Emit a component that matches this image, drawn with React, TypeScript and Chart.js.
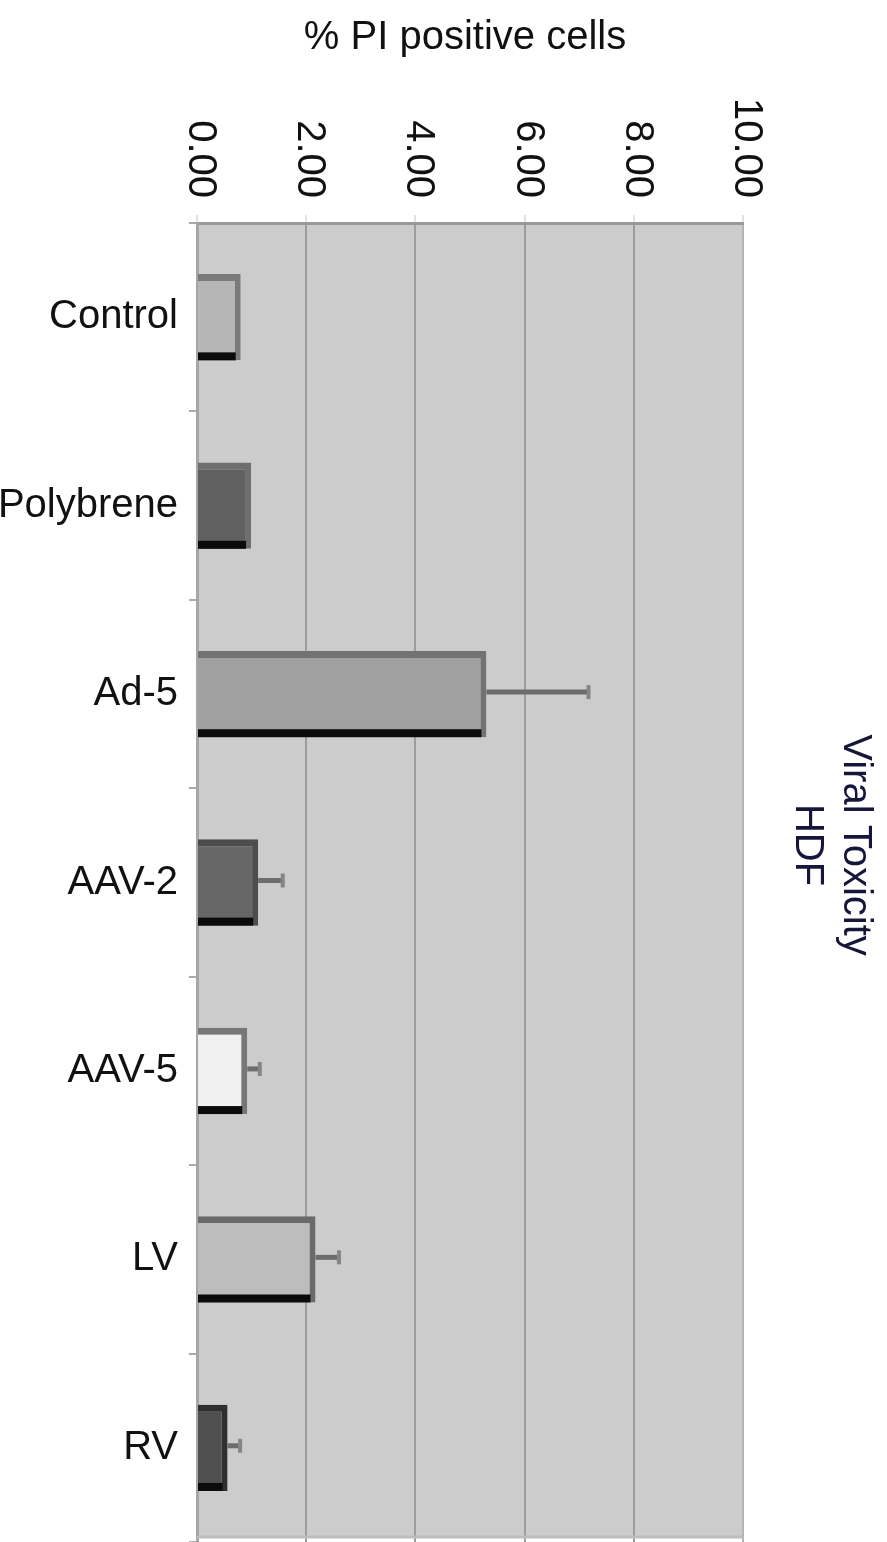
import React, { useEffect, useRef } from "react";
import { Chart, registerables } from "chart.js";

Chart.register(...registerables);

const categories = ["Control", "Polybrene", "Ad-5", "AAV-2", "AAV-5", "LV", "RV"];
const values = [0.8, 0.99, 5.3, 1.12, 0.92, 2.17, 0.56];
const errors = [0, 0, 1.87, 0.45, 0.23, 0.43, 0.23];
const xTickValues = [0, 2, 4, 6, 8, 10];
const chartTitle = "% PI positive cells";
const sideTitle = ["Viral Toxicity", "HDF"];

const fillColors = ["#b6b6b6", "#606060", "#a1a1a1", "#666666", "#f0f0f0", "#bdbdbd", "#505050"];
const borderColors = ["#7a7a7a", "#6e6e6e", "#727272", "#4c4c4c", "#777777", "#6a6a6a", "#2f2f2f"];

const FONT = '"Liberation Sans", Arial, sans-serif';

const decorPlugin = {
  id: "decor",
  beforeDraw(chart: any) {
    const { ctx, chartArea } = chart;
    ctx.save();
    ctx.fillStyle = "#ffffff";
    ctx.fillRect(0, 0, chart.width, chart.height);
    ctx.fillStyle = "#cccccc";
    ctx.fillRect(chartArea.left, chartArea.top, chartArea.right - chartArea.left, chartArea.bottom - 5 - chartArea.top);
    ctx.restore();
  },
  afterDatasetsDraw(chart: any) {
    const { ctx, chartArea } = chart;
    const xs = chart.scales.x;
    const meta = chart.getDatasetMeta(0);
    ctx.save();
    meta.data.forEach((el: any) => {
      const bottom = el.y + el.height / 2;
      ctx.fillStyle = "#0b0b0b";
      ctx.fillRect(el.base, bottom - 8, Math.max(0, el.x - 5 - el.base), 8);
    });
    meta.data.forEach((el: any, i: number) => {
      if (!errors[i]) return;
      const xEnd = xs.getPixelForValue(values[i] + errors[i]);
      const y = el.y - 2;
      ctx.strokeStyle = "#6c6c6c";
      ctx.lineWidth = 5;
      ctx.beginPath();
      ctx.moveTo(el.x, y);
      ctx.lineTo(xEnd, y);
      ctx.stroke();
      ctx.fillStyle = "#858585";
      ctx.fillRect(xEnd - 2, y - 7, 4, 14);
    });
    ctx.strokeStyle = "#bdbdbd";
    ctx.lineWidth = 3;
    ctx.beginPath();
    ctx.moveTo(chartArea.left, chartArea.bottom - 5);
    ctx.lineTo(chartArea.right, chartArea.bottom - 5);
    ctx.stroke();
    ctx.restore();
  },
  afterDraw(chart: any) {
    const { ctx, chartArea } = chart;
    const xs = chart.scales.x;
    ctx.save();
    ctx.fillStyle = "#111111";
    ctx.font = `40px ${FONT}`;
    xTickValues.forEach((v) => {
      const px = xs.getPixelForValue(v);
      ctx.save();
      ctx.translate(px + 3, 198);
      ctx.rotate(Math.PI / 2);
      ctx.textAlign = "right";
      ctx.textBaseline = "middle";
      ctx.fillText(v.toFixed(2), 0, 0);
      ctx.restore();
    });
    ctx.textAlign = "center";
    ctx.textBaseline = "middle";
    ctx.fillText(chartTitle, (chartArea.left + chartArea.right) / 2 - 5, 38);
    ctx.save();
    ctx.translate(chartArea.right + 88, 845);
    ctx.rotate(Math.PI / 2);
    ctx.textAlign = "center";
    ctx.textBaseline = "middle";
    ctx.fillStyle = "#16163a";
    ctx.fillText(sideTitle[0], 0, -24);
    ctx.fillText(sideTitle[1], 0, 24);
    ctx.restore();
    ctx.restore();
  },
};

export default function App() {
  const canvasRef = useRef<HTMLCanvasElement | null>(null);

  useEffect(() => {
    document.body.style.margin = "0";
    document.body.style.overflow = "hidden";
    const canvas = canvasRef.current;
    if (!canvas) return;
    const chart = new Chart(canvas, {
      type: "bar",
      data: {
        labels: categories,
        datasets: [
          {
            data: values,
            backgroundColor: fillColors,
            borderColor: borderColors,
            borderWidth: { top: 7, right: 6, bottom: 0, left: 0 },
            borderSkipped: false,
            barPercentage: 0.458,
            categoryPercentage: 1,
          },
        ],
      },
      options: {
        indexAxis: "y",
        responsive: false,
        animation: false,
        devicePixelRatio: 1,
        layout: { padding: { top: 0, left: 0, right: 144, bottom: 0 } },
        plugins: {
          legend: { display: false },
          title: { display: false },
          tooltip: { enabled: false },
        },
        scales: {
          x: {
            type: "linear",
            position: "top",
            min: 0,
            max: 10,
            ticks: { stepSize: 2, display: false },
            grid: {
              color: (c: any) => (c.tick && c.tick.value === 10 ? "#b4b4b4" : "#9c9c9c"),
              lineWidth: 2,
              drawTicks: true,
              tickLength: 8,
              tickColor: "#e2e2e2",
            },
            border: { display: true, color: "#999999", width: 3 },
            afterFit: (s: any) => {
              s.height = 223;
              s.paddingLeft = 0;
              s.paddingRight = 0;
            },
          },
          y: {
            type: "category",
            offset: true,
            grid: {
              display: true,
              drawOnChartArea: false,
              drawTicks: true,
              tickLength: 8,
              tickColor: "#aaaaaa",
              lineWidth: 2,
              offset: true,
            },
            border: { display: true, color: "#a6a6a6", width: 3 },
            ticks: {
              color: "#111111",
              font: { family: FONT, size: 40 },
              padding: 11,
            },
            afterFit: (s: any) => {
              s.width = 197;
              s.paddingTop = 0;
              s.paddingBottom = 0;
            },
          },
        },
      },
      plugins: [decorPlugin],
    } as any);
    return () => chart.destroy();
  }, []);

  return (
    <div style={{ width: 887, height: 1542 }}>
      <canvas ref={canvasRef} width={887} height={1542} style={{ display: "block" }} />
    </div>
  );
}
